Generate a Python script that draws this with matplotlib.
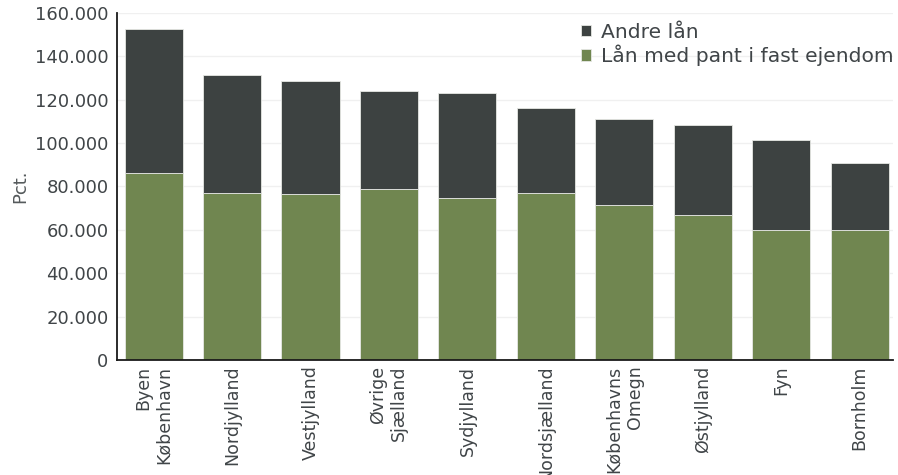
import numpy as np
import matplotlib.pyplot as plt
from matplotlib.ticker import FuncFormatter

# Lending per region, split into mortgage loans and other loans
regions = ['Byen\nKøbenhavn', 'Nordjylland', 'Vestjylland', 'Øvrige\nSjælland',
           'Sydjylland', 'Nordsjælland', 'Københavns\nOmegn', 'Østjylland',
           'Fyn', 'Bornholm']
pant = [86400, 77200, 76300, 78600, 74500, 76800, 71300, 66700, 59800, 59800]
total = [152600, 131500, 128700, 124100, 123200, 116300, 111300, 108500, 101600, 91000]
andre = [t - p for t, p in zip(total, pant)]

dark = '#3d4241'
green = '#708650'
txt = '#404548'

plt.rcParams['font.family'] = ['DejaVu Sans']

fig = plt.figure(figsize=(8.98, 4.75), dpi=100)
ax = fig.add_axes([0.130, 0.242, 0.864, 0.731])

x = np.arange(len(regions))
ax.bar(x, pant, width=0.74, color=green, edgecolor='#e6e8e4', linewidth=0.6,
       label='Lån med pant i fast ejendom', zorder=2)
ax.bar(x, andre, width=0.74, bottom=pant, color=dark, edgecolor='#e6e8e4', linewidth=0.6,
       label='Andre lån', zorder=2)

ax.set_xlim(-0.47, 9.42)
ax.set_ylim(0, 160000)
ax.set_yticks(np.arange(0, 160001, 20000))
ax.yaxis.set_major_formatter(FuncFormatter(lambda v, _: f'{int(v):,}'.replace(',', '.')))
ax.grid(axis='y', color='#f0f0f0', linewidth=1, zorder=0)

ax.set_xticks(x)
ax.set_xticklabels(regions, rotation=90, ha='center', va='top', multialignment='right')
ax.tick_params(axis='both', length=0, labelsize=13, labelcolor=txt)
ax.tick_params(axis='x', pad=4, labelsize=12.5)
ax.tick_params(axis='y', pad=6)

for side in ['top', 'right']:
    ax.spines[side].set_visible(False)
for side in ['left', 'bottom']:
    ax.spines[side].set_color('#1a1a1a')
    ax.spines[side].set_linewidth(1.3)

ax.set_ylabel('Pct.', fontsize=13, color='#555a5c', labelpad=4)

handles, labels = ax.get_legend_handles_labels()
ax.legend(handles[::-1], labels[::-1], loc='upper right', frameon=False,
          fontsize=14.6, handlelength=0.5, handleheight=0.5, handletextpad=0.5,
          labelspacing=0.15, borderaxespad=0.0, bbox_to_anchor=(1.012, 0.995),
          labelcolor=txt)

fig.savefig('out.png', dpi=100)
